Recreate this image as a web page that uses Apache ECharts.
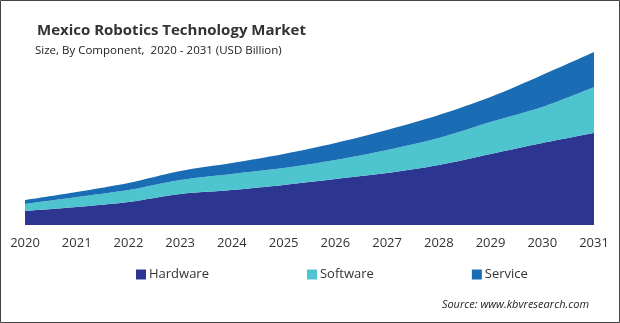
<!DOCTYPE html>
<html>
<head>
<meta charset="utf-8">
<script src="https://cdn.jsdelivr.net/npm/echarts@6/dist/echarts.min.js"></script>
<style>
html,body{margin:0;padding:0;background:#fff;}
#c{width:620px;height:323px;}
</style>
</head>
<body>
<div id="c"></div>
<script>
const years = ['2020','2021','2022','2023','2024','2025','2026','2027','2028','2029','2030','2031'];
const hardware = [0.14,0.18,0.23,0.31,0.35,0.40,0.46,0.52,0.60,0.71,0.82,0.92];
const software = [0.07,0.10,0.12,0.14,0.16,0.17,0.19,0.23,0.27,0.32,0.36,0.46];
const service  = [0.04,0.05,0.07,0.09,0.11,0.14,0.17,0.20,0.23,0.25,0.32,0.35];

const colors = {hw:'#2c3690', sw:'#4ec4cf', sv:'#1a6db4'};
const font = '"Open Sans", "DejaVu Sans", sans-serif';

const chart = echarts.init(document.getElementById('c'), null, {renderer:'canvas'});
function mk(name, data, color){
  return {
    name, type:'line', stack:'total', data, smooth:0.3, symbol:'none',
    lineStyle:{width:0}, areaStyle:{color, opacity:1}, itemStyle:{color},
    emphasis:{disabled:true}
  };
}
chart.setOption({
  animation:false,
  backgroundColor:'#fff',
  title:[{
    text:'Mexico Robotics Technology Market',
    left:32, top:18,
    textStyle:{fontFamily:font, fontSize:15, fontWeight:'bold', color:'#333'}
  },{
    text:'Size, By Component,  2020 - 2031 (USD Billion)',
    left:30, top:40,
    textStyle:{fontFamily:font, fontSize:11.5, fontWeight:'normal', color:'#222'}
  }],
  graphic:[{
    type:'rect', shape:{x:0.5,y:0.5,width:619,height:322},
    style:{fill:'none', stroke:'#444', lineWidth:1}, silent:true
  },{
    type:'text', right:31, top:299,
    style:{text:'Source: www.kbvresearch.com', font:'italic 11px ' + font, fill:'#222'}
  }],
  legend:{
    top:263, left:131, itemGap:98, itemWidth:10, itemHeight:10, icon:'rect',
    textStyle:{fontFamily:font, fontSize:13, color:'#333', padding:[0,0,0,-2]},
    data:['Hardware','Software','Service']
  },
  grid:{left:25, right:26, top:25, bottom:98},
  xAxis:{
    type:'category', data:years, boundaryGap:false,
    axisLine:{show:false}, axisTick:{show:false},
    axisLabel:{fontFamily:font, fontSize:13, color:'#333', margin:12}
  },
  yAxis:{type:'value', min:0, max:2.0, show:false, splitLine:{show:false}},
  series:[
    mk('Hardware', hardware, colors.hw),
    mk('Software', software, colors.sw),
    mk('Service', service, colors.sv)
  ]
});
</script>
</body>
</html>
